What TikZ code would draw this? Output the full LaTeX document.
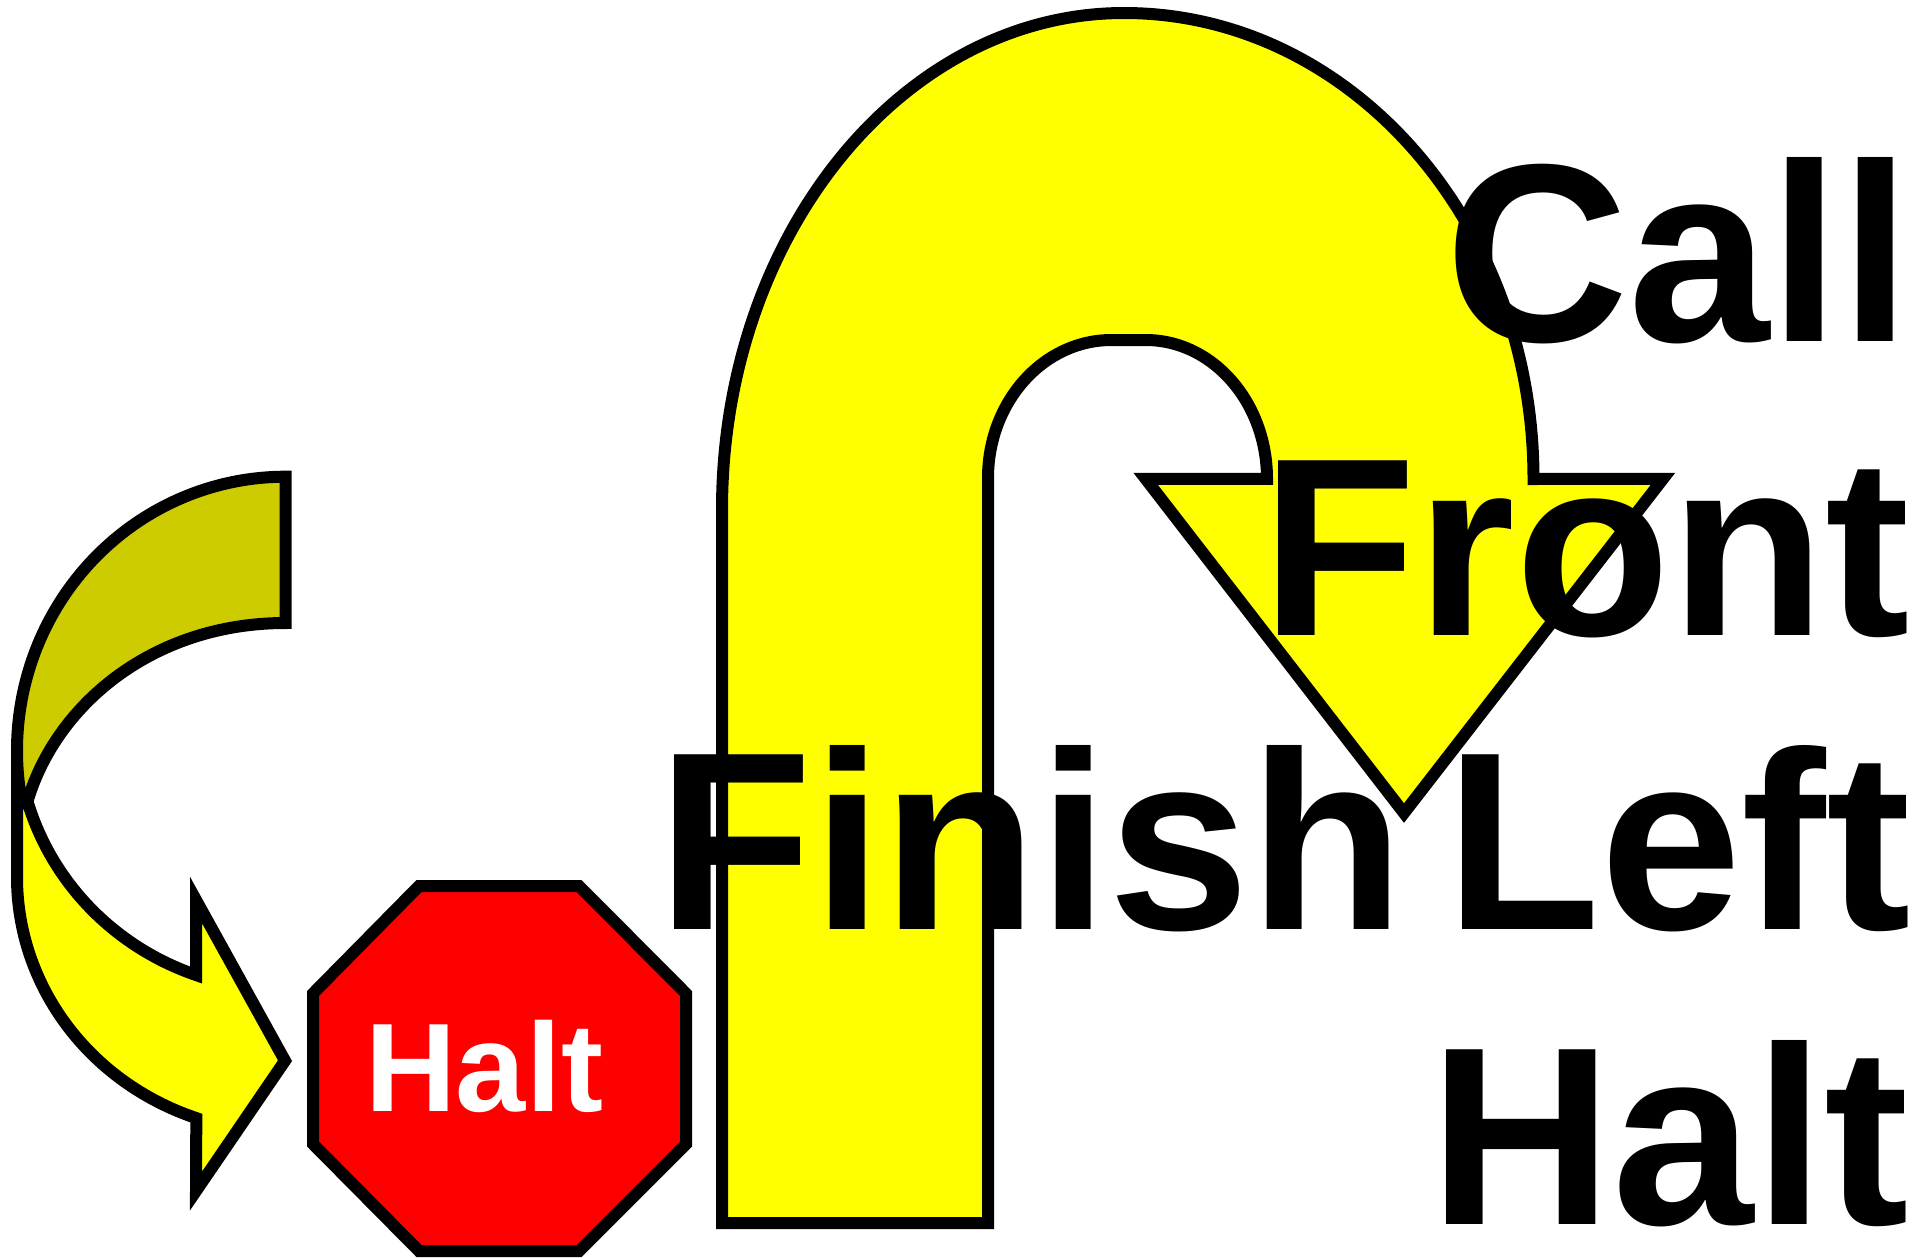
\documentclass[tikz,border=0pt]{standalone}
\usepackage{fontspec}
\setmainfont{Liberation Sans}
\tikzset{
  shapeline/.style={draw=black,line width=12pt,miter limit=10,line join=miter},
  bigtext/.style={anchor=base west,inner sep=0pt,outer sep=0pt,text=black,font=\fontsize{254}{254}\selectfont\bfseries},
  smalltext/.style={anchor=base west,inner sep=0pt,outer sep=0pt,text=white,font=\fontsize{126}{126}\selectfont\bfseries}
}
\definecolor{arrowyellow}{HTML}{FFFF00}
\definecolor{darkyellow}{HTML}{CCCC00}
\definecolor{haltred}{HTML}{FF0000}
\begin{document}
\begin{tikzpicture}[x=1pt,y=-1pt]
\useasboundingbox (0,0) rectangle (1930,1258);
% J arrow
\path[shapeline,fill=arrowyellow]
  (722,1223) -- (722,510)
  arc[start angle=180,end angle=270,x radius=402,y radius=497]
  arc[start angle=270,end angle=360,x radius=409.5,y radius=466]
  -- (1663,478.8) -- (1404,813) -- (1145.6,478.8) -- (1267,478.8)
  arc[start angle=360,end angle=270,x radius=121.4,y radius=138.8]
  -- (1111.6,340)
  arc[start angle=270,end angle=180,x radius=123.6,y radius=138]
  -- (988,1223) -- cycle;
% U-turn arrow, upper part
\path[shapeline,fill=darkyellow]
  (285.5,476.7)
  arc[start angle=270,end angle=169,x radius=268.5,y radius=274]
  -- (27,803) .. controls (54,708) and (150,623) .. (285.5,623)
  -- cycle;
% U-turn arrow, lower part
\path[shapeline,fill=arrowyellow]
  (17,800) -- (17,877)
  arc[start angle=180,end angle=109.4,x radius=268.5,y radius=255.6]
  -- (196,1191) -- (285,1060.7) -- (196,900) -- (196,975)
  arc[start angle=109.4,end angle=163,x radius=268.5,y radius=262]
  -- cycle;
\draw[line width=12pt] (17,750) -- (17,801);
% Stop sign
\path[shapeline,fill=haltred]
  (419,886) -- (579,886) -- (686,993.5) -- (686,1144) -- (579,1251)
  -- (419,1251) -- (313,1144) -- (313,993.5) -- cycle;
% Labels
\node[bigtext] (call) at (1445,341) {Call};
\node[bigtext] (front) at (1261.5,635) {Front};
\node[bigtext] (finish) at (657,929) {Finish};
\node[bigtext] (left) at (1445.5,929) {Left};
\node[bigtext] (bighalt) at (1429.5,1224) {Halt};
\node[smalltext] (stophalt) at (365,1111.5) {Halt};
\end{tikzpicture}
\end{document}
